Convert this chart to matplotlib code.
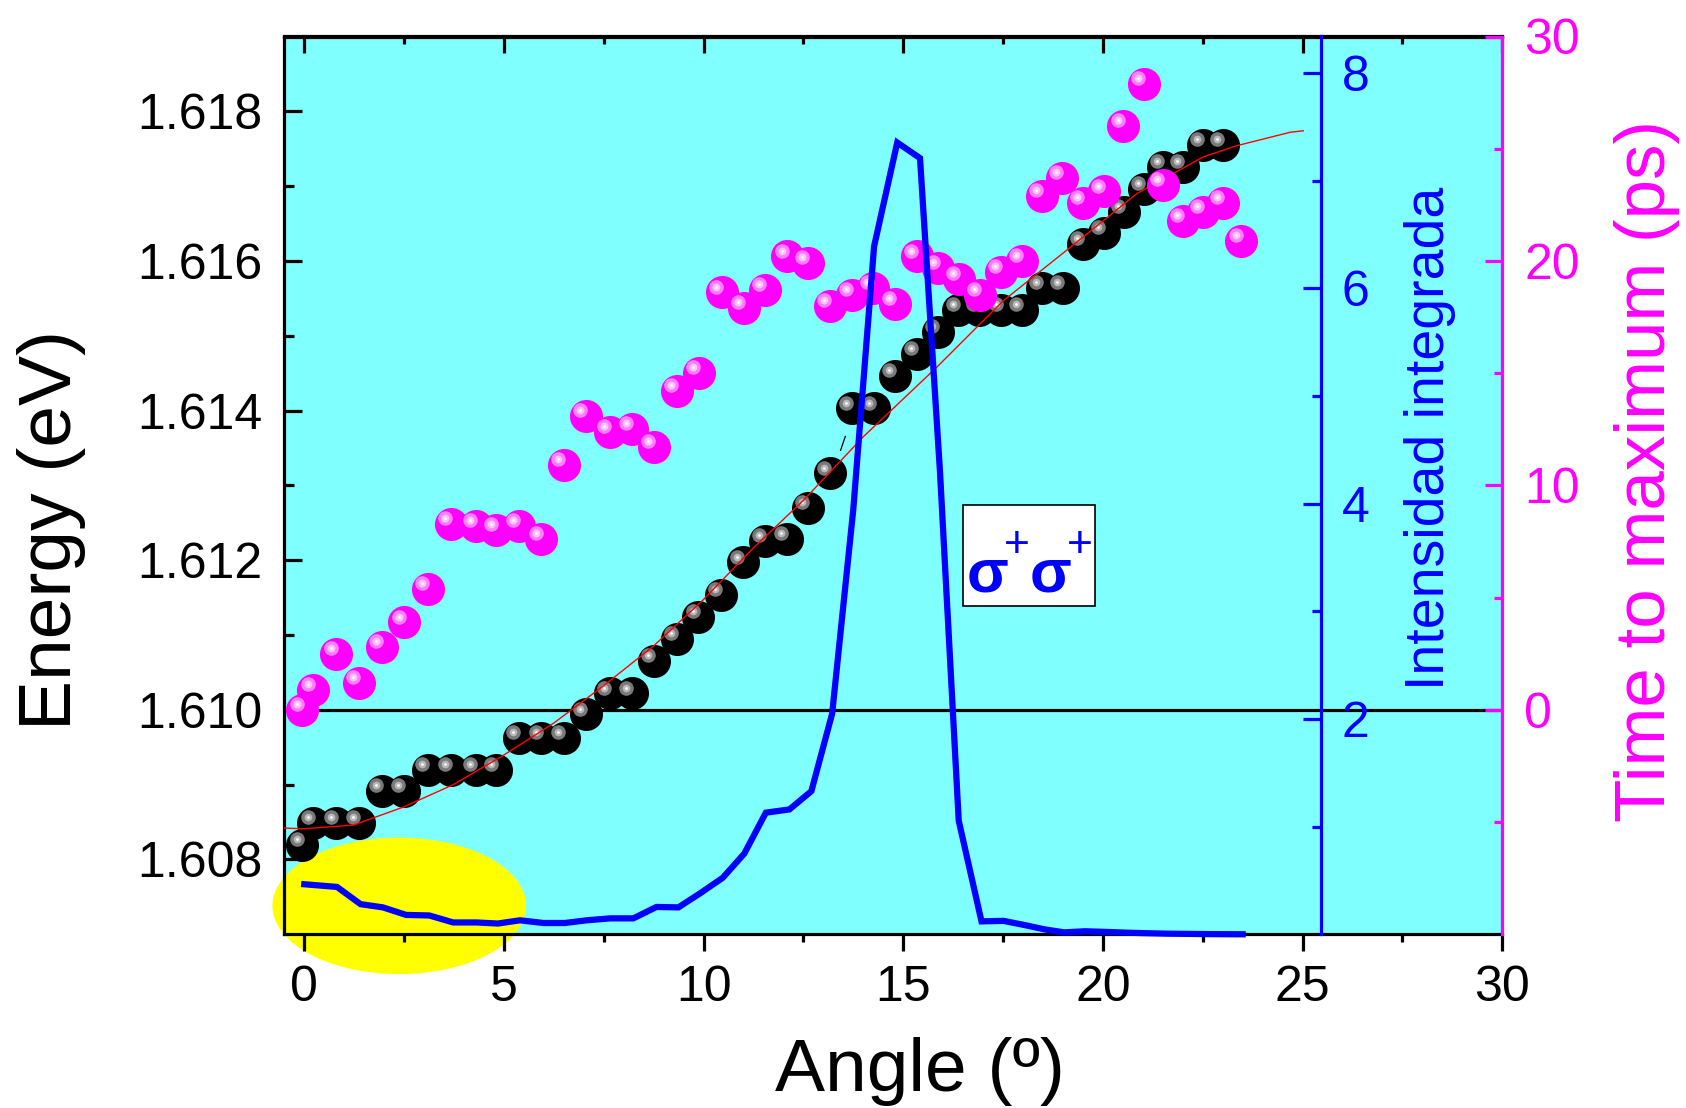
import matplotlib
matplotlib.use("Agg")
import matplotlib.pyplot as plt
from matplotlib.patches import Ellipse, Rectangle
from matplotlib.transforms import ScaledTranslation
from matplotlib.ticker import FixedLocator, FormatStrFormatter

plt.rcParams['font.family'] = ['Liberation Sans', 'DejaVu Sans']

# ---- Polariton energy vs angle (black spheres) ----
angle_energy = [-0.05, 0.23, 0.80, 1.37, 1.94, 2.50, 3.10, 3.67, 4.29, 4.81,
                5.38, 5.94, 6.50, 7.06, 7.65, 8.20, 8.76, 9.33, 9.87, 10.43,
                10.99, 11.53, 12.08, 12.62, 13.17, 13.72, 14.28, 14.79, 15.34,
                15.87, 16.38, 16.90, 17.46, 17.97, 18.48, 19.00, 19.50, 20.03,
                20.53, 21.03, 21.51, 22.01, 22.51, 23.01]
energy = [1.60819, 1.60849, 1.60849, 1.60849, 1.60892, 1.60892, 1.60920,
          1.60920, 1.60920, 1.60920, 1.60963, 1.60963, 1.60963, 1.60994,
          1.61022, 1.61022, 1.61065, 1.61095, 1.61124, 1.61154, 1.61197,
          1.61226, 1.61228, 1.61270, 1.61316, 1.61403, 1.61403, 1.61446,
          1.61476, 1.61505, 1.61535, 1.61535, 1.61535, 1.61535, 1.61564,
          1.61564, 1.61623, 1.61638, 1.61666, 1.61696, 1.61726, 1.61726,
          1.61755, 1.61755]

# ---- Fitted dispersion (red curve) ----
fit_angle = [-0.51, -0.02, 1.23, 2.48, 3.73, 4.98, 6.24, 7.49, 8.74, 9.99,
             11.24, 12.50, 14.00, 15.84, 17.51, 19.18, 20.85, 22.51, 23.35,
             24.69, 25.02]
fit_energy = [1.60842, 1.60841, 1.60846, 1.60870, 1.60900, 1.60939, 1.60982,
              1.61032, 1.61085, 1.61147, 1.61216, 1.61280, 1.61365, 1.61458,
              1.61547, 1.61618, 1.61690, 1.61739, 1.61754, 1.61772, 1.61774]

# short stray stroke next to the energy points
stub_angle = [13.43, 13.55]
stub_energy = [1.613468, 1.613655]

# ---- Time to maximum (magenta spheres) ----
angle_time = [-0.05, 0.23, 0.80, 1.37, 1.94, 2.51, 3.10, 3.67, 4.29, 4.81,
              5.38, 5.94, 6.50, 7.06, 7.65, 8.20, 8.76, 9.33, 9.89, 10.45,
              11.00, 11.54, 12.10, 12.62, 13.17, 13.72, 14.24, 14.79, 15.34,
              15.88, 16.40, 16.92, 17.44, 17.97, 18.48, 18.98, 19.50, 20.03,
              20.51, 21.03, 21.51, 22.01, 22.51, 23.01, 23.47]
time_max = [0.0, 0.9, 2.5, 1.2, 2.8, 3.9, 5.4, 8.3, 8.2, 8.0,
            8.2, 7.6, 10.9, 13.1, 12.4, 12.5, 11.7, 14.2, 15.0, 18.6,
            17.9, 18.7, 20.2, 19.9, 18.0, 18.5, 18.8, 18.1, 20.2,
            19.7, 19.2, 18.5, 19.5, 20.0, 22.9, 23.7, 22.6, 23.1,
            26.0, 27.9, 23.4, 21.8, 22.2, 22.6, 20.9]

# ---- Integrated intensity (blue line) ----
angle_int = [0.00, 0.82, 1.41, 1.97, 2.55, 3.13, 3.73, 4.31, 4.85, 5.40,
             5.99, 6.53, 7.07, 7.66, 8.24, 8.82, 9.37, 9.91, 10.48, 11.02,
             11.56, 12.15, 12.70, 13.22, 13.75, 14.27, 14.85, 15.42, 15.92,
             16.39, 16.96, 17.51, 18.05, 18.55, 19.03, 19.55, 20.10, 20.60,
             21.10, 21.60, 22.10, 22.60, 23.00, 23.50]
intensity = [0.465, 0.44, 0.28, 0.25, 0.18, 0.175, 0.11, 0.11, 0.10, 0.13,
             0.105, 0.105, 0.13, 0.148, 0.148, 0.254, 0.25, 0.38, 0.525, 0.75,
             1.13, 1.16, 1.33, 2.05, 3.95, 6.39, 7.355, 7.21, 4.30,
             1.055, 0.12, 0.125, 0.085, 0.045, 0.018, 0.028, 0.022, 0.015,
             0.010, 0.006, 0.004, 0.002, 0.001, 0.0]

x_ticks = [0, 5, 10, 15, 20, 25, 30]
x_minor = [2.5, 7.5, 12.5, 17.5, 22.5, 27.5]
e_ticks = [1.608, 1.610, 1.612, 1.614, 1.616, 1.618]
e_minor = [1.609, 1.611, 1.613, 1.615, 1.617]
i_ticks = [2, 4, 6, 8]
i_minor = [1, 3, 5, 7]
t_ticks = [0, 10, 20, 30]
t_minor = [-5, 5, 15, 25]

BLUE = '#0000FF'
PINK = '#FF00FF'
W, H = 1686, 1108
DPI = 100

fig = plt.figure(figsize=(W / DPI, H / DPI), dpi=DPI)
L, R, B, T = 284.3, 1502.2, 934.3, 36.5
ax = fig.add_axes([L / W, 1 - B / H, (R - L) / W, (B - T) / H])
ax.set_facecolor('#80FFFF')
ax.set_xlim(-0.5, 30)
ax.set_ylim(1.607, 1.619)

ax2 = ax.twinx()
ax3 = ax.twinx()
ax.set_zorder(1)
ax3.set_zorder(2)
ax2.set_zorder(3)
for a in (ax2, ax3):
    a.patch.set_visible(False)
    for s in ('left', 'top', 'bottom'):
        a.spines[s].set_visible(False)

SPW = 2.3
# main axes: energy
ax.spines['right'].set_visible(False)
for s in ('left', 'bottom', 'top'):
    ax.spines[s].set_linewidth(SPW)
ax.xaxis.set_major_locator(FixedLocator(x_ticks))
ax.xaxis.set_minor_locator(FixedLocator(x_minor))
ax.yaxis.set_major_locator(FixedLocator(e_ticks))
ax.yaxis.set_minor_locator(FixedLocator(e_minor))
ax.yaxis.set_major_formatter(FormatStrFormatter('%.3f'))
ax.tick_params(axis='x', which='major', direction='out', length=12, width=SPW,
               labelsize=36, pad=10, top=False)
ax.tick_params(axis='x', which='minor', direction='out', length=6, width=SPW, top=False)
ax.tick_params(axis='y', which='major', direction='in', length=13, width=SPW,
               labelsize=36, pad=16, right=False)
ax.tick_params(axis='y', which='minor', direction='in', length=7, width=SPW, right=False)

sec = ax.secondary_xaxis('top')
sec.spines['top'].set_linewidth(SPW)
sec.xaxis.set_major_locator(FixedLocator(x_ticks))
sec.xaxis.set_minor_locator(FixedLocator(x_minor))
sec.tick_params(axis='x', which='major', direction='in', length=12, width=SPW,
                labeltop=False, labelbottom=False)
sec.tick_params(axis='x', which='minor', direction='in', length=6, width=SPW)

# intensity axis (blue), spine inside the frame
ax2.set_ylim(0, 8.34)
ax2.spines['right'].set_position(('axes', 0.851))
ax2.spines['right'].set_color(BLUE)
ax2.spines['right'].set_linewidth(SPW)
ax2.yaxis.set_major_locator(FixedLocator(i_ticks))
ax2.yaxis.set_minor_locator(FixedLocator(i_minor))
ax2.tick_params(axis='y', which='major', direction='in', length=13, width=SPW,
                colors=BLUE, labelsize=36, pad=15)
ax2.tick_params(axis='y', which='minor', direction='in', length=6.5, width=SPW,
                colors=BLUE)

# time axis (magenta)
ax3.set_ylim(-10, 30)
ax3.spines['right'].set_color(PINK)
ax3.spines['right'].set_linewidth(SPW)
ax3.yaxis.set_major_locator(FixedLocator(t_ticks))
ax3.yaxis.set_minor_locator(FixedLocator(t_minor))
ax3.tick_params(axis='y', which='major', direction='in', length=12.5, width=SPW,
                colors=PINK, labelsize=36, pad=16)
ax3.tick_params(axis='y', which='minor', direction='in', length=6, width=SPW,
                colors=PINK)

# highlighted region and reference line
ax.add_patch(Ellipse((2.379, 1.607381), 6.354, 0.001824, facecolor='#FFFF00',
                     edgecolor='none', zorder=1.5, clip_on=False))
ax.axhline(1.610, color='black', lw=SPW, zorder=2)


def spheres(a, xs, ys, base, ring, inner, z):
    shift = a.transData + ScaledTranslation(-5.7 / DPI, 5.8 / DPI, fig.dpi_scale_trans)
    a.plot(xs, ys, 'o', ms=23.8, color=base, mec='none', zorder=z)
    a.plot(xs, ys, 'o', ms=10.5, color=ring, mec='none', zorder=z + 0.1, transform=shift)
    a.plot(xs, ys, 'o', ms=5.5, color=inner, mec='none', zorder=z + 0.2, transform=shift)
    a.plot(xs, ys, 'o', ms=2.0, color='white', mec='none', zorder=z + 0.3, transform=shift)


spheres(ax, angle_energy, energy, 'black', '#7a7a7a', '#b8b8b8', 3)
ax.plot(fit_angle, fit_energy, color='#FF0000', lw=1.0, zorder=4)
ax.plot(stub_angle, stub_energy, color='black', lw=0.9, zorder=4)

spheres(ax3, angle_time, time_max, PINK, '#FF80FF', '#FFC4FF', 3)

ax2.plot(angle_int, intensity, color=BLUE, lw=4.5, zorder=5, clip_on=False,
         solid_joinstyle='miter')

# axis titles
fig.text(920 / W, 1 - 1091 / H, 'Angle (º)', fontsize=54, ha='center', va='baseline')
fig.text(51.5 / W, 1 - 530.5 / H, 'Energy (eV)', fontsize=54, rotation=90,
         ha='center', va='center')
fig.text(1430 / W, 1 - 438 / H, 'Intensidad integrada', fontsize=40, rotation=90,
         ha='center', va='center', color=BLUE)
fig.text(1647 / W, 1 - 471 / H, 'Time to maximum (ps)', fontsize=51, rotation=90,
         ha='center', va='center', color=PINK)

# polarization label
fig.add_artist(Rectangle((962.5 / W, 1 - 606 / H), 132.9 / W, 101 / H,
                         transform=fig.transFigure, facecolor='white',
                         edgecolor='black', lw=1.2, zorder=10))
for xs, xp in ((967, 1017), (1030, 1080)):
    fig.text(xs / W, 1 - 591 / H, 'σ', fontsize=44, fontweight='bold', color=BLUE,
             ha='left', va='baseline', zorder=11)
    fig.text(xp / W, 1 - 557 / H, '+', fontsize=32, color=BLUE,
             ha='center', va='baseline', zorder=11)

fig.savefig('out.png', dpi=DPI)
